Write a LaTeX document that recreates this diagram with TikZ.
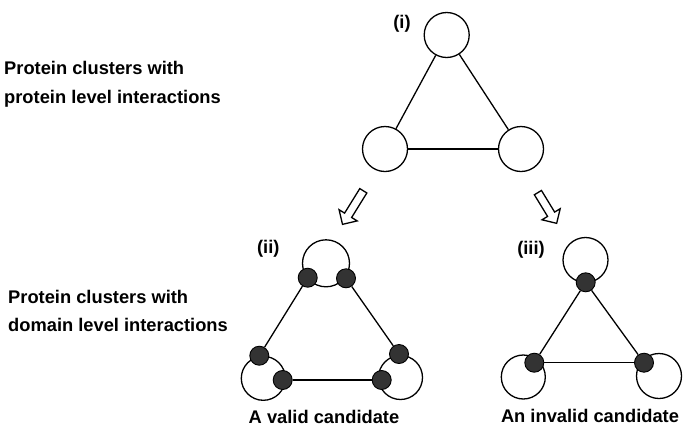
\documentclass[tikz,border=0pt]{standalone}
\usepackage{fontspec}
\setmainfont{Liberation Sans}
\usetikzlibrary{shapes.arrows}
\definecolor{domfill}{HTML}{333333}
\tikzstyle{protein} = [circle, draw=black, line width=1.3pt, minimum size=45pt, inner sep=0pt]
\tikzstyle{dom} = [circle, draw=black, fill=domfill, line width=0.9pt, minimum size=19pt, inner sep=0pt]
\tikzstyle{link} = [line width=1.3pt]
\tikzstyle{txt} = [font=\bfseries\fontsize{18.3}{21}\selectfont, inner sep=0pt]
\tikzstyle{hollow} = [single arrow, draw=black, line width=1.3pt, inner sep=3.5pt, minimum width=20pt, single arrow head extend=6.5pt]

\begin{document}
\begin{tikzpicture}[x=1pt, y=-1pt]
\useasboundingbox (0,0) rectangle (685,429);

% row texts
\node (t1) [txt, anchor=base west] at (4,74) {Protein clusters with};
\node (t2) [txt, anchor=base west] at (4,103) {protein level interactions};
\node (t3) [txt, anchor=base west] at (8,303) {Protein clusters with};
\node (t4) [txt, anchor=base west] at (8,331) {domain level interactions};

% (i) protein level
\node (i) [txt, anchor=base] at (402,28.5) {(i)};
\node (pt) [protein] at (446.7,35) {};
\node (pl) [protein] at (385,149) {};
\node (pr) [protein] at (521,149) {};
\draw [link] (pt) -- (pl);
\draw [link] (pt) -- (pr);
\draw [link] (pl) -- (pr);

\node (arrl) [hollow, minimum height=39.5pt, rotate=238.2] at (354,205.8) {};
\node (arrr) [hollow, minimum height=36pt, rotate=301.4] at (546.2,206.2) {};

% (ii) valid candidate
\node (ii) [txt, anchor=base] at (268.3,253) {(ii)};
\node (vt) [protein, minimum size=47pt] at (326,263.3) {};
\node (vl) [protein, minimum size=44pt] at (263.3,378.3) {};
\node (vr) [protein, minimum size=44pt] at (400.5,377.5) {};
\node (va) [dom] at (307.7,277.7) {};
\node (vb) [dom] at (346,278.3) {};
\node (vc) [dom] at (259.3,355.7) {};
\node (vd) [dom] at (282.7,380) {};
\node (ve) [dom] at (399,354) {};
\node (vf) [dom] at (381.7,380) {};
\draw [link] (va) -- (vc);
\draw [link] (vb) -- (ve);
\draw [link] (vd) -- (vf);
\node (valid) [txt, anchor=base] at (324,423) {A valid candidate};

% (iii) invalid candidate
\node (iii) [txt, anchor=base] at (531,254) {(iii)};
\node (it) [protein] at (585.5,260) {};
\node (il) [protein, minimum size=44pt] at (523.3,377) {};
\node (ir) [protein] at (659,376) {};
\node (ia) [dom] at (585.7,282.3) {};
\node (ib) [dom] at (534.3,362.7) {};
\node (ic) [dom] at (644,362.7) {};
\draw [link] (ia) -- (ib);
\draw [link] (ia) -- (ic);
\draw [link] (ib) -- (ic);
\node (invalid) [txt, anchor=base] at (590,422) {An invalid candidate};
\end{tikzpicture}
\end{document}
